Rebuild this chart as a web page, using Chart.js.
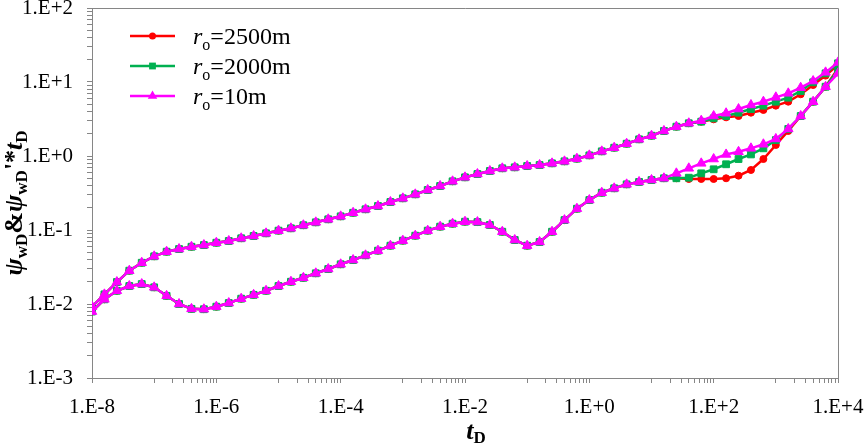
<!DOCTYPE html>
<html lang="en">
<head>
<meta charset="UTF-8">
<title>ψwD & ψwD'*tD vs tD</title>
<script src="https://cdn.jsdelivr.net/npm/chart.js"></script>
<style>
    body { margin: 0; background: #fff; }
    #wrap { width: 865px; height: 443px; }
</style>
</head>
<body>
<div id="wrap"><canvas id="plot" width="865" height="443"></canvas></div>
<script>
    // dimensionless time (5 points per decade)
    const tD = [
        1e-8, 1.585e-8, 2.512e-8, 3.981e-8, 6.310e-8,
        1e-7, 1.585e-7, 2.512e-7, 3.981e-7, 6.310e-7,
        1e-6, 1.585e-6, 2.512e-6, 3.981e-6, 6.310e-6,
        1e-5, 1.585e-5, 2.512e-5, 3.981e-5, 6.310e-5,
        1e-4, 1.585e-4, 2.512e-4, 3.981e-4, 6.310e-4,
        1e-3, 1.585e-3, 2.512e-3, 3.981e-3, 6.310e-3,
        1e-2, 1.585e-2, 2.512e-2, 3.981e-2, 6.310e-2,
        1e-1, 1.585e-1, 2.512e-1, 3.981e-1, 6.310e-1,
        1, 1.585, 2.512, 3.981, 6.310,
        10, 15.85, 25.12, 39.81, 63.10,
        100, 158.5, 251.2, 398.1, 631.0,
        1000, 1585, 2512, 3981, 6310,
        10000
    ];

    // part shared by all three radii (tD = 1e-8 ... 6.31e+0)
    const pwdShared = [
        0.0092, 0.0135, 0.0198, 0.0282, 0.0361, 0.0441, 0.0509, 0.0553, 0.0594, 0.0626,
        0.0673, 0.0710, 0.0773, 0.0830, 0.0902, 0.098, 0.1054, 0.116, 0.127, 0.1395,
        0.153, 0.171, 0.1905, 0.211, 0.239, 0.268, 0.3035, 0.3475, 0.3935, 0.455,
        0.515, 0.571, 0.627, 0.682, 0.703, 0.733, 0.755, 0.796, 0.847, 0.920,
        1.02, 1.156, 1.295, 1.466, 1.68, 1.88
    ];
    const dpwdShared = [
        0.0079, 0.01156, 0.0151, 0.0175, 0.0186, 0.0168, 0.0129, 0.0100, 0.0086, 0.0085,
        0.0092, 0.0103, 0.0118, 0.0133, 0.0151, 0.0175, 0.020, 0.0226, 0.026, 0.0297,
        0.0344, 0.0393, 0.0455, 0.0526, 0.0614, 0.0718, 0.0838, 0.098, 0.111, 0.1217,
        0.1295, 0.128, 0.117, 0.0948, 0.0733, 0.0614, 0.0689, 0.0948, 0.136, 0.194,
        0.254, 0.319, 0.366, 0.414, 0.446, 0.474
    ];

    // late-time parts (tD = 1e+1 ... 1e+4)
    const pwd2500 = [2.18, 2.49, 2.77, 2.91, 3.13, 3.33, 3.47, 3.85, 4.19, 4.79, 5.42, 6.83, 9.10, 12.2, 17.0];
    const pwd2000 = [2.18, 2.49, 2.77, 2.91, 3.23, 3.47, 3.85, 4.31, 4.79, 5.42, 6.14, 7.55, 9.91, 13.1, 17.9];
    const pwd10   = [2.18, 2.49, 2.77, 3.00, 3.47, 3.78, 4.31, 4.89, 5.42, 6.21, 7.03, 8.37, 10.3, 13.5, 18.4];
    const dpwd2500 = [0.50, 0.50, 0.489, 0.489, 0.489, 0.50, 0.542, 0.647, 0.91, 1.41, 2.18, 3.47, 5.42, 8.63, 15.3];
    const dpwd2000 = [0.50, 0.50, 0.509, 0.583, 0.661, 0.773, 0.91, 1.05, 1.27, 1.64, 2.32, 3.47, 5.42, 8.63, 14.5];
    const dpwd10   = [0.50, 0.583, 0.682, 0.796, 0.91, 1.05, 1.14, 1.27, 1.44, 1.70, 2.32, 3.47, 5.42, 8.63, 13.1];

    const seriesNames = ['2500m', '2000m', '10m'];
    const seriesColors = ['#FF0000', '#00B050', '#FF00FF'];
    const seriesMarkers = ['circle', 'rect', 'triangle'];
    const markerRadius = [3.5, 4.8, 5.5];

    const xMajor = [1e-8, 1e-6, 1e-4, 1e-2, 1, 1e2, 1e4];
    const xTickLabels = ['1.E-8', '1.E-6', '1.E-4', '1.E-2', '1.E+0', '1.E+2', '1.E+4'];
    const yMajor = [1e-3, 1e-2, 1e-1, 1, 10, 100];
    const yTickLabels = ['1.E-3', '1.E-2', '1.E-1', '1.E+0', '1.E+1', '1.E+2'];

    function toPoints(vals) {
        return vals.map((v, i) => ({ x: tD[i], y: v }));
    }

    // tick marks: x axis like Excel (minor ticks only in the odd decade), y axis 2..9 per decade
    function xTickMarks() {
        const out = [];
        for (let k = 0; k < xMajor.length; k++) {
            out.push(xMajor[k]);
            if (k < xMajor.length - 1) {
                for (let m = 1; m <= 9; m++) out.push(xMajor[k] * 10 * m);
            }
        }
        return out;
    }
    function yTickMarks() {
        const out = [];
        for (let k = 0; k < yMajor.length; k++) {
            out.push(yMajor[k]);
            if (k < yMajor.length - 1) {
                for (let m = 2; m <= 9; m++) out.push(yMajor[k] * m);
            }
        }
        return out;
    }
    function labelFor(value, majors, labels) {
        const idx = majors.findIndex(v => Math.abs(Math.log10(v) - Math.log10(value)) < 1e-6);
        return idx >= 0 ? labels[idx] : '';
    }

    const pwdAll = [pwd2500, pwd2000, pwd10];
    const dpwdAll = [dpwd2500, dpwd2000, dpwd10];

    // first dataset is drawn on top, so magenta goes first
    const datasets = [];
    for (let s = 2; s >= 0; s--) {
        [pwdShared.concat(pwdAll[s]), dpwdShared.concat(dpwdAll[s])].forEach(vals => {
            datasets.push({
                data: toPoints(vals),
                borderColor: seriesColors[s],
                backgroundColor: seriesColors[s],
                borderWidth: 2.5,
                pointStyle: seriesMarkers[s],
                pointRadius: markerRadius[s],
                pointBorderWidth: 1,
                tension: 0,
                fill: false
            });
        });
    }

    const serif = "'Liberation Serif', 'Times New Roman', serif";

    function drawRich(ctx, parts, x, y) {
        let cx = x;
        parts.forEach(p => {
            ctx.font = p.font;
            ctx.fillText(p.t, cx, y + (p.dy || 0));
            cx += ctx.measureText(p.t).width;
        });
    }
    function richWidth(ctx, parts) {
        let w = 0;
        parts.forEach(p => { ctx.font = p.font; w += ctx.measureText(p.t).width; });
        return w;
    }

    const decorations = {
        id: 'decorations',
        afterDraw(chart) {
            const ctx = chart.ctx;
            const a = chart.chartArea;
            ctx.save();

            // top and right frame
            ctx.strokeStyle = '#868686';
            ctx.lineWidth = 1;
            ctx.beginPath();
            ctx.moveTo(a.left, a.top + 0.5);
            ctx.lineTo(a.right + 0.5, a.top + 0.5);
            ctx.lineTo(a.right + 0.5, a.bottom);
            ctx.stroke();

            ctx.fillStyle = '#000';
            ctx.textBaseline = 'alphabetic';
            ctx.textAlign = 'left';

            // x axis title
            const xt = [
                { t: 't', font: `bold italic 26px ${serif}` },
                { t: 'D', font: `bold 17px ${serif}`, dy: 4 }
            ];
            drawRich(ctx, xt, 476 - richWidth(ctx, xt) / 2, 439);

            // y axis title (rotated)
            const yt = [
                { t: 'ψ', font: `bold italic 26px ${serif}` },
                { t: 'wD', font: `bold 17px ${serif}`, dy: 5 },
                { t: '&', font: `bold 26px ${serif}` },
                { t: 'ψ', font: `bold italic 26px ${serif}` },
                { t: 'wD', font: `bold 17px ${serif}`, dy: 5 },
                { t: "'*", font: `bold 26px ${serif}` },
                { t: 't', font: `bold italic 26px ${serif}` },
                { t: 'D', font: `bold 17px ${serif}`, dy: 5 }
            ];
            ctx.translate(22, 203);
            ctx.rotate(-Math.PI / 2);
            drawRich(ctx, yt, -richWidth(ctx, yt) / 2, 0);
            ctx.setTransform(chart.currentDevicePixelRatio, 0, 0, chart.currentDevicePixelRatio, 0, 0);

            // legend
            const rows = [36, 66, 96];
            seriesNames.forEach((name, s) => {
                const y = rows[s];
                ctx.strokeStyle = seriesColors[s];
                ctx.fillStyle = seriesColors[s];
                ctx.lineWidth = 2.5;
                ctx.beginPath();
                ctx.moveTo(130, y);
                ctx.lineTo(175, y);
                ctx.stroke();
                ctx.lineWidth = 1;
                Chart.helpers.drawPoint(ctx, { pointStyle: seriesMarkers[s], radius: markerRadius[s], rotation: 0 }, 152.5, y);
                ctx.fillStyle = '#000';
                drawRich(ctx, [
                    { t: 'r', font: `italic 24px ${serif}` },
                    { t: 'o', font: `16px ${serif}`, dy: 6 },
                    { t: '=' + name, font: `24px ${serif}` }
                ], 193, y + 8);
            });
            ctx.restore();
        }
    };

    new Chart(document.getElementById('plot'), {
        type: 'line',
        data: { datasets },
        options: {
            responsive: false,
            animation: false,
            devicePixelRatio: 1,
            layout: { padding: { top: 8, right: 27, left: 0, bottom: 0 } },
            plugins: { legend: { display: false }, tooltip: { enabled: false } },
            scales: {
                x: {
                    type: 'logarithmic',
                    min: 1e-8,
                    max: 1e4,
                    afterBuildTicks: scale => { scale.ticks = xTickMarks().map(v => ({ value: v })); },
                    afterFit: scale => {
                        scale.height = 65;
                        scale.paddingLeft = 0;
                        scale.paddingRight = 0;
                    },
                    border: { color: '#868686', width: 1 },
                    grid: { drawOnChartArea: false, drawTicks: true, tickLength: 5, tickColor: '#868686' },
                    ticks: {
                        autoSkip: false,
                        maxRotation: 0,
                        padding: 12,
                        color: '#000',
                        font: { family: serif, size: 21 },
                        callback: v => labelFor(v, xMajor, xTickLabels)
                    }
                },
                y: {
                    type: 'logarithmic',
                    min: 1e-3,
                    max: 100,
                    afterBuildTicks: scale => { scale.ticks = yTickMarks().map(v => ({ value: v })); },
                    afterFit: scale => {
                        scale.width = 92;
                        scale.paddingTop = 0;
                        scale.paddingBottom = 0;
                    },
                    border: { color: '#868686', width: 1 },
                    grid: { drawOnChartArea: false, drawTicks: true, tickLength: 5, tickColor: '#868686' },
                    ticks: {
                        autoSkip: false,
                        padding: 14,
                        color: '#000',
                        font: { family: serif, size: 21 },
                        callback: v => labelFor(v, yMajor, yTickLabels)
                    }
                }
            }
        },
        plugins: [decorations]
    });
</script>
</body>
</html>
